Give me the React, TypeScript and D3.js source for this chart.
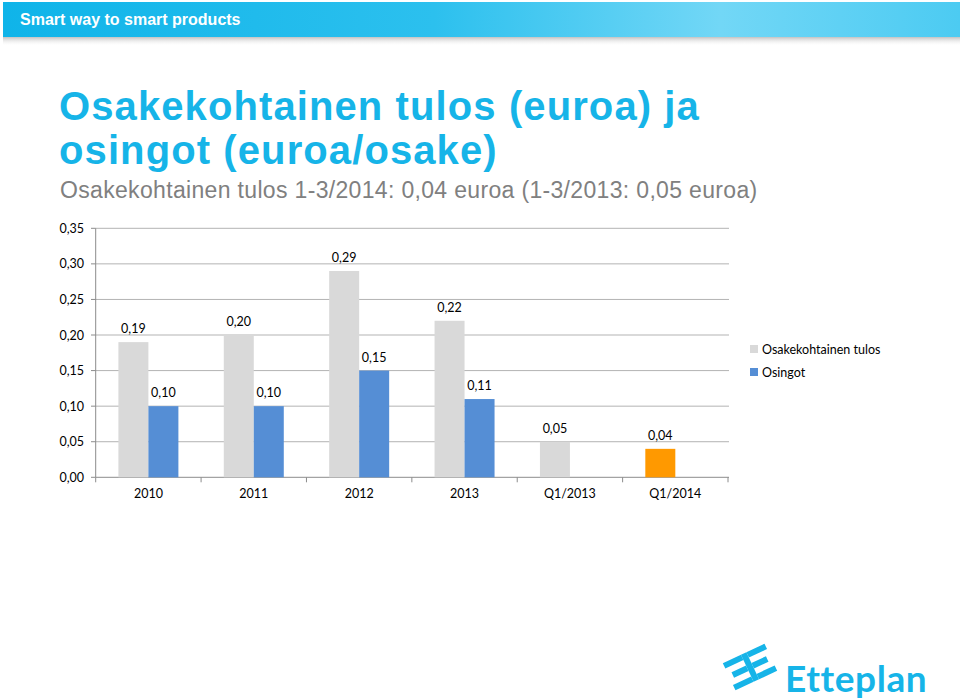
import React from "react";
import * as d3 from "d3";

const categories = ["2010", "2011", "2012", "2013", "Q1/2013", "Q1/2014"];
const epsValues: (number | null)[] = [0.19, 0.2, 0.29, 0.22, 0.05, 0.04];
const dividendValues: (number | null)[] = [0.1, 0.1, 0.15, 0.11, null, null];
const epsLabels = ["0,19", "0,20", "0,29", "0,22", "0,05", "0,04"];
const dividendLabels = ["0,10", "0,10", "0,15", "0,11", "", ""];
const seriesNames = ["Osakekohtainen tulos", "Osingot"];
const yTicks = [0, 0.05, 0.1, 0.15, 0.2, 0.25, 0.3, 0.35];
const highlightIndex = 5;

const GREY = "#d9d9d9";
const BLUE = "#558ed5";
const ORANGE = "#ff9900";
const CYAN = "#16b4e8";
const chartFont = "Lato, 'Open Sans', sans-serif";
const headFont = "'Liberation Sans', Arial, sans-serif";

export default function App() {
  const x = d3.scaleBand<string>().domain(categories).range([95.7, 728]).padding(0);
  const sub = d3.scaleBand<string>().domain(["eps", "div"]).range([22.7, 82.7]).padding(0);
  const y = d3.scaleLinear().domain([0, 0.35]).range([477.3, 228.3]);
  const fmt = (v: number) => d3.format(".2f")(v).replace(".", ",");

  return (
    <svg width={960} height={700} style={{ position: "absolute", left: 0, top: 0, background: "#fff" }}>
      <defs>
        <linearGradient id="hdr" x1="0" x2="1" y1="0" y2="0">
          <stop offset="0" stopColor="#0fb4e9" />
          <stop offset="0.45" stopColor="#2cc0ee" />
          <stop offset="0.75" stopColor="#72d7f6" />
          <stop offset="1" stopColor="#4ccbf2" />
        </linearGradient>
        <linearGradient id="shd" x1="0" x2="0" y1="0" y2="1">
          <stop offset="0" stopColor="#9a9a9a" stopOpacity="0.6" />
          <stop offset="1" stopColor="#ffffff" stopOpacity="0" />
        </linearGradient>
      </defs>
      {/* header */}
      <rect x={3} y={37} width={957} height={9} fill="url(#shd)" />
      <rect x={3} y={2} width={957} height={35} fill="url(#hdr)" />
      <text x={20} y={25} fill="#fff" fontFamily={headFont} fontWeight="bold" fontSize={16}>
        Smart way to smart products
      </text>
      {/* title */}
      <text x={59} y={120} fill={CYAN} fontFamily={headFont} fontWeight="bold" fontSize={40} letterSpacing={1.1}>
        Osakekohtainen tulos (euroa) ja
      </text>
      <text x={59} y={164} fill={CYAN} fontFamily={headFont} fontWeight="bold" fontSize={40} letterSpacing={1.1}>
        osingot (euroa/osake)
      </text>
      <text x={60} y={198} fill="#808080" fontFamily={headFont} fontSize={23} letterSpacing={0.33}>
        Osakekohtainen tulos 1-3/2014: 0,04 euroa (1-3/2013: 0,05 euroa)
      </text>

      {/* gridlines */}
      {yTicks.map((t) => (
        <g key={t}>
          {t > 0 && <line x1={95.7} x2={729} y1={y(t)} y2={y(t)} stroke="#b3b3b3" strokeWidth={1} />}
          <line x1={91} x2={95.7} y1={y(t)} y2={y(t)} stroke="#8c8c8c" strokeWidth={1} />
          <text x={84} y={y(t) + 4.5} textAnchor="end" fontFamily={chartFont} fontSize={12.5} fill="#000">
            {fmt(t)}
          </text>
        </g>
      ))}
      {/* axes */}
      <line x1={95.7} x2={95.7} y1={y(0.35)} y2={y(0)} stroke="#8c8c8c" />
      <line x1={95.7} x2={729} y1={y(0)} y2={y(0)} stroke="#8c8c8c" />
      {categories.map((c) => (
        <line key={"t" + c} x1={x(c)!} x2={x(c)!} y1={y(0)} y2={y(0) + 5} stroke="#8c8c8c" />
      ))}
      <line x1={728} x2={728} y1={y(0)} y2={y(0) + 5} stroke="#8c8c8c" />

      {/* bars */}
      {categories.map((c, i) => {
        const x0 = x(c)!;
        const e = epsValues[i];
        const dv = dividendValues[i];
        return (
          <g key={c}>
            {e != null && (
              <>
                <rect x={x0 + sub("eps")!} y={y(e)} width={sub.bandwidth()} height={y(0) - y(e)}
                  fill={i === highlightIndex ? ORANGE : GREY} />
                <text x={x0 + sub("eps")! + sub.bandwidth() / 2} y={y(e) - 9} textAnchor="middle"
                  fontFamily={chartFont} fontSize={12.5} fill="#000">{epsLabels[i]}</text>
              </>
            )}
            {dv != null && (
              <>
                <rect x={x0 + sub("div")!} y={y(dv)} width={sub.bandwidth()} height={y(0) - y(dv)} fill={BLUE} />
                <text x={x0 + sub("div")! + sub.bandwidth() / 2} y={y(dv) - 9} textAnchor="middle"
                  fontFamily={chartFont} fontSize={12.5} fill="#000">{dividendLabels[i]}</text>
              </>
            )}
            <text x={x0 + x.bandwidth() / 2} y={498} textAnchor="middle" fontFamily={chartFont}
              fontSize={12.5} fill="#000">{c}</text>
          </g>
        );
      })}

      {/* legend */}
      {seriesNames.map((s, i) => (
        <g key={s}>
          <rect x={750} y={345 + i * 23} width={8} height={8} fill={i === 0 ? GREY : BLUE} />
          <text x={762} y={353.5 + i * 23} fontFamily={chartFont} fontSize={12.5} fill="#000">{s}</text>
        </g>
      ))}

      {/* logo */}
      <g transform="translate(750,667) rotate(-25)" fill={CYAN}>
        <rect x={-3} y={-15} width={6} height={30} />
        <rect x={-23} y={-15} width={20} height={6} />
        <rect x={-19} y={-3} width={16} height={6} />
        <rect x={-23} y={9} width={20} height={6} />
        <rect x={3} y={-15} width={20} height={6} />
        <rect x={3} y={-3} width={16} height={6} />
        <rect x={3} y={9} width={20} height={6} />
      </g>
      <text x={785} y={692} fill={CYAN} fontFamily="Lato, sans-serif" fontWeight="bold" fontSize={37} letterSpacing={0.6}>
        Etteplan
      </text>
    </svg>
  );
}
